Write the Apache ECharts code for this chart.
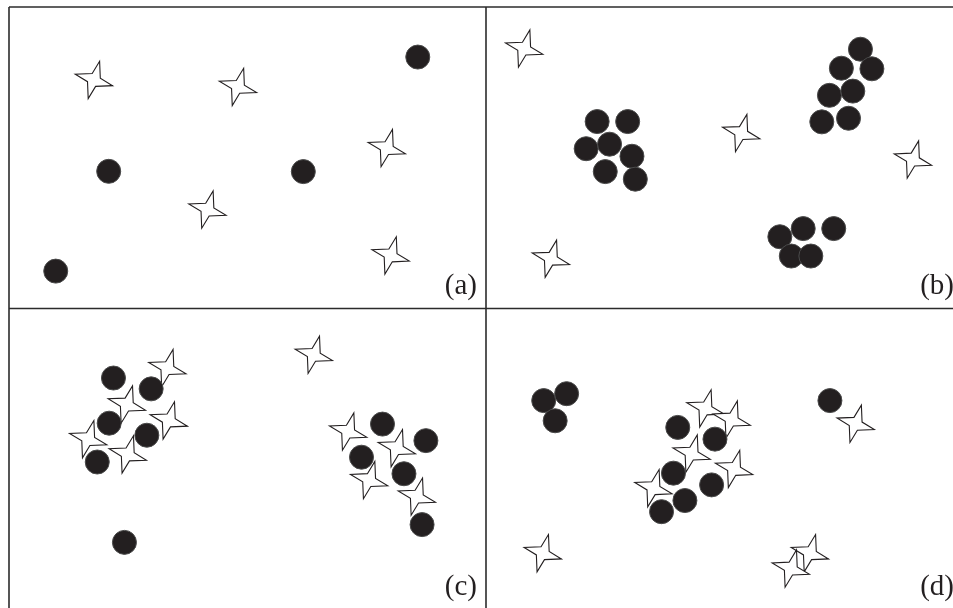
<!DOCTYPE html>
<html>
<head>
<meta charset="utf-8">
<script src="https://cdn.jsdelivr.net/npm/echarts@6/dist/echarts.min.js"></script>
<style>
html,body{margin:0;padding:0;background:#fff;}
#chart{width:953px;height:608px;}
</style>
</head>
<body>
<div id="chart"></div>
<script>
// ---- data (x, y in 0..100 panel units, y up; kind = 'dot' | 'star'), listed in drawing order ----
const panelLabels = ['(a)', '(b)', '(c)', '(d)'];

const panelA = [
  [17.8, 75.8, 'star'], [48.0, 73.5, 'star'], [79.2, 53.2, 'star'],
  [41.6, 32.8, 'star'], [80.0, 17.6, 'star'],
  [85.7, 83.4, 'dot'], [20.9, 45.5, 'dot'], [61.7, 45.4, 'dot'], [9.8, 12.4, 'dot']
];

const panelB = [
  [8.0, 86.2, 'star'], [53.5, 58.2, 'star'], [89.5, 49.4, 'star'], [13.6, 16.5, 'star'],
  [23.3, 62.0, 'dot'], [29.7, 62.0, 'dot'], [21.0, 53.0, 'dot'], [25.9, 54.5, 'dot'],
  [30.6, 50.5, 'dot'], [25.0, 45.4, 'dot'], [31.3, 42.9, 'dot'],
  [78.5, 86.0, 'dot'], [74.5, 79.7, 'dot'], [80.9, 79.5, 'dot'], [72.0, 70.7, 'dot'],
  [76.9, 72.1, 'dot'], [76.0, 63.1, 'dot'], [70.4, 61.9, 'dot'],
  [61.6, 23.8, 'dot'], [66.5, 26.5, 'dot'], [72.9, 26.5, 'dot'], [64.0, 17.4, 'dot'], [68.1, 17.4, 'dot']
];

const panelC = [
  [63.9, 84.6, 'star'],
  [21.9, 76.9, 'dot'],
  [33.2, 80.2, 'star'],
  [29.8, 73.3, 'dot'],
  [24.7, 68.1, 'star'], [33.5, 62.8, 'star'], [16.6, 56.6, 'star'], [24.9, 51.5, 'star'],
  [21.0, 61.9, 'dot'], [28.9, 57.9, 'dot'], [18.5, 49.0, 'dot'], [24.2, 22.3, 'dot'],
  [78.3, 61.6, 'dot'], [87.4, 56.1, 'dot'], [73.9, 50.6, 'dot'], [82.8, 45.1, 'dot'], [86.6, 28.2, 'dot'],
  [71.1, 59.1, 'star'], [81.3, 53.6, 'star'], [75.5, 43.0, 'star'], [85.5, 37.5, 'star']
];

const panelD = [
  [46.0, 66.8, 'star'], [51.5, 63.1, 'star'], [43.1, 51.8, 'star'], [52.0, 46.7, 'star'],
  [35.1, 40.3, 'star'], [77.5, 61.7, 'star'], [11.9, 18.7, 'star'], [67.9, 18.7, 'star'], [63.9, 13.6, 'star'],
  [12.1, 69.4, 'dot'], [16.9, 71.7, 'dot'], [14.5, 62.7, 'dot'],
  [40.2, 60.5, 'dot'], [48.0, 56.6, 'dot'], [39.3, 45.3, 'dot'], [47.3, 41.4, 'dot'],
  [41.7, 36.2, 'dot'], [36.8, 32.5, 'dot'], [72.1, 69.4, 'dot']
];

const panels = [panelA, panelB, panelC, panelD];

// ---- star symbol (4-pointed, pinwheel-like, rotated) ----
function buildStar() {
  const pts = [];
  const d2r = Math.PI / 180;
  for (let i = 0; i < 4; i++) {
    const t = (17 + 90 * i) * d2r;
    const s = t + 58 * d2r;
    pts.push([Math.sin(t), -Math.cos(t)]);
    pts.push([0.34 * Math.sin(s), -0.34 * Math.cos(s)]);
  }
  let minX = Infinity, minY = Infinity, maxX = -Infinity, maxY = -Infinity;
  pts.forEach(p => { minX = Math.min(minX, p[0]); maxX = Math.max(maxX, p[0]); minY = Math.min(minY, p[1]); maxY = Math.max(maxY, p[1]); });
  const path = 'path://' + pts.map((p, i) => (i ? 'L' : 'M') + ((p[0] - minX) * 100).toFixed(2) + ' ' + ((p[1] - minY) * 100).toFixed(2)).join(' ') + ' Z';
  return { path: path, w: maxX - minX, h: maxY - minY };
}
const STAR = buildStar();
const STAR_R = 19.5;

// Panel frames: full panel is 477 x 301 px; right and bottom panels are cut by the picture edge,
// so their grids stop at the edge and the axis ranges are trimmed to match.
const W = 953, H = 608;
const panelRects = [
  { left: 9, top: 7, width: 477, height: 301.5 },
  { left: 486, top: 7, width: 477, height: 301.5 },
  { left: 9, top: 308.5, width: 477, height: 301 },
  { left: 486, top: 308.5, width: 477, height: 301 }
];
const grids = panelRects.map(r => ({
  left: r.left, top: r.top,
  width: Math.min(r.width, W - r.left),
  height: Math.min(r.height, H - r.top),
  show: false
}));

const option = {
  animation: false,
  backgroundColor: '#ffffff',
  grid: grids,
  xAxis: panelRects.map((r, i) => ({
    type: 'value', gridIndex: i, min: 0, max: 100 * grids[i].width / r.width, show: false
  })),
  yAxis: panelRects.map((r, i) => ({
    type: 'value', gridIndex: i, min: 100 * (r.height - grids[i].height) / r.height, max: 100, show: false
  })),
  series: panels.map((pts, i) => ({
    type: 'scatter',
    xAxisIndex: i,
    yAxisIndex: i,
    clip: false,
    silent: true,
    data: pts.map(p => p[2] === 'star' ? {
      value: [p[0], p[1]],
      symbol: STAR.path,
      symbolSize: [STAR.w * STAR_R, STAR.h * STAR_R],
      itemStyle: { color: '#ffffff', borderColor: '#231f20', borderWidth: 1.1, opacity: 1 }
    } : {
      value: [p[0], p[1]],
      symbol: 'circle',
      symbolSize: 24,
      itemStyle: { color: '#231f20', borderColor: '#4a4a4a', borderWidth: 1, opacity: 1 }
    })
  })),
  graphic: [
    { type: 'line', shape: { x1: 9, y1: 7, x2: W, y2: 7 }, style: { stroke: '#2b2b2b', lineWidth: 1.6 } },
    { type: 'line', shape: { x1: 9, y1: 7, x2: 9, y2: H }, style: { stroke: '#2b2b2b', lineWidth: 1.6 } },
    { type: 'line', shape: { x1: 486, y1: 7, x2: 486, y2: H }, style: { stroke: '#2b2b2b', lineWidth: 1.6 } },
    { type: 'line', shape: { x1: 9, y1: 308.5, x2: W, y2: 308.5 }, style: { stroke: '#2b2b2b', lineWidth: 1.6 } }
  ].concat(panelRects.map((r, i) => ({
    type: 'text',
    x: r.left + 468,
    y: r.top + 279,
    style: {
      text: panelLabels[i],
      fontSize: 29,
      fontFamily: 'Liberation Serif',
      fill: '#231f20',
      align: 'right',
      textAlign: 'right',
      verticalAlign: 'middle',
      textVerticalAlign: 'middle'
    }
  })))
};

const chart = echarts.init(document.getElementById('chart'), null, { renderer: 'canvas' });
chart.setOption(option);
</script>
</body>
</html>
